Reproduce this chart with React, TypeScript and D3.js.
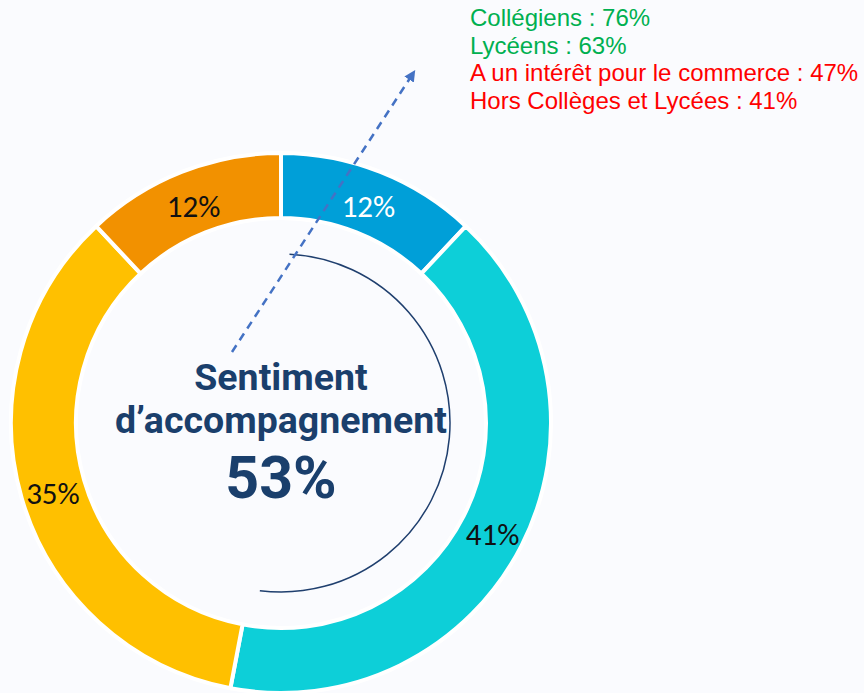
import React from "react";
import * as d3 from "d3";

const segLabels = ["12%", "41%", "35%", "12%"];
const segValues = [12, 41, 35, 12];
const segColors = ["#009fd8", "#0dcfd8", "#ffc000", "#f29100"];
const segTextColors = ["#ffffff", "#111111", "#111111", "#111111"];

const noteLines = [
  "Collégiens : 76%",
  "Lycéens : 63%",
  "A un intérêt pour le commerce : 47%",
  "Hors Collèges et Lycées : 41%",
];
const noteColors = ["#00b050", "#00b050", "#ff0000", "#ff0000"];

const centerTitle = ["Sentiment", "d\u2019accompagnement"];
const centerValue = "53%";
const innerArcPct = [0.8, 52];

const W = 864;
const H = 693;
const cx = 281;
const cy = 423;
const R = 270;
const r = 205;

export default function App() {
  const pie = d3.pie<number>().sort(null).value((d) => d);
  const arcs = pie(segValues);
  const arcGen = d3.arc<d3.PieArcDatum<number>>().innerRadius(r).outerRadius(R);
  const labelArc = d3.arc<d3.PieArcDatum<number>>().innerRadius((R + r) / 2).outerRadius((R + r) / 2);

  const angle = d3.scaleLinear().domain([0, 100]).range([0, 2 * Math.PI]);
  const thinArc = d3.arc()({
    innerRadius: 169,
    outerRadius: 169,
    startAngle: angle(innerArcPct[0]),
    endAngle: angle(innerArcPct[1]),
  } as any) as string;

  return (
    <svg
      width={W}
      height={H}
      style={{ position: "absolute", left: 0, top: 0, background: "#fafbfe" }}
    >
      <defs>
        <marker id="ah" viewBox="0 0 10 10" refX="8" refY="5" markerWidth="4.5" markerHeight="4.5" orient="auto">
          <path d="M0,0 L10,5 L0,10 z" fill="#4472c4" />
        </marker>
      </defs>
      <rect x={0} y={0} width={W} height={H} fill="#fafbfe" />
      <g transform={`translate(${cx},${cy})`}>
        {arcs.map((a, i) => (
          <path key={i} d={arcGen(a) as string} fill={segColors[i]} stroke="#ffffff" strokeWidth={4} />
        ))}
        {arcs.map((a, i) => {
          const [x, y] = labelArc.centroid(a);
          return (
            <text
              key={"l" + i}
              x={x}
              y={y}
              dy="0.47em"
              textAnchor="middle"
              fontFamily="Carlito, 'Open Sans', 'Liberation Sans', sans-serif"
              fontSize={31}
              fill={segTextColors[i]}
            >
              {segLabels[i]}
            </text>
          );
        })}
        <path d={thinArc} fill="none" stroke="#1f3f6e" strokeWidth={1.5} />
      </g>
      <line
        x1={232}
        y1={352}
        x2={414}
        y2={72}
        stroke="#4472c4"
        strokeWidth={2.5}
        strokeDasharray="8 6"
        markerEnd="url(#ah)"
      />
      <g fontFamily="Roboto, 'Noto Sans', sans-serif" fontWeight={700} fill="#1a3f6c" textAnchor="middle">
        <text x={cx} y={390} fontSize={37.5}>{centerTitle[0]}</text>
        <text x={cx} y={433} fontSize={37.5}>{centerTitle[1]}</text>
        <text x={cx} y={498} fontSize={59}>{centerValue}</text>
      </g>
      <g fontFamily="'Liberation Sans', Arial, sans-serif" fontSize={24}>
        {noteLines.map((t, i) => (
          <text key={i} x={470} y={26 + i * 27.5} fill={noteColors[i]}>
            {t}
          </text>
        ))}
      </g>
    </svg>
  );
}
